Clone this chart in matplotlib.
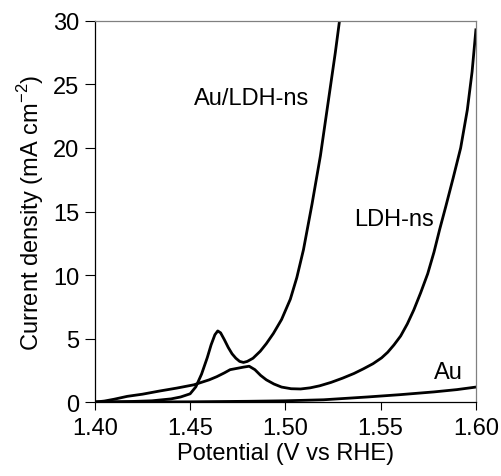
import matplotlib.pyplot as plt

plt.rcParams['font.family'] = ['Liberation Sans', 'DejaVu Sans']

# Au/LDH-ns
e_auldh = [1.400, 1.410, 1.420, 1.430, 1.440, 1.445, 1.450, 1.453, 1.456, 1.459,
           1.461, 1.463, 1.4645, 1.466, 1.468, 1.470, 1.472, 1.474, 1.476, 1.478,
           1.480, 1.483, 1.4868, 1.490, 1.4937, 1.498, 1.5026, 1.506, 1.5095, 1.514,
           1.5184, 1.521, 1.5237, 1.5262, 1.5284, 1.529]
j_auldh = [0.00, 0.02, 0.05, 0.10, 0.25, 0.40, 0.65, 1.2, 2.2, 3.5,
           4.5, 5.3, 5.6, 5.45, 4.9, 4.3, 3.8, 3.45, 3.2, 3.12,
           3.2, 3.45, 4.0, 4.6, 5.4, 6.5, 8.1, 9.8, 12.0, 15.6,
           19.4, 22.1, 24.9, 27.5, 30.0, 30.8]

# LDH-ns
e_ldh = [1.400, 1.405, 1.410, 1.417, 1.425, 1.434, 1.443, 1.452, 1.460, 1.464,
         1.468, 1.471, 1.4745, 1.478, 1.481, 1.484, 1.487, 1.490, 1.494, 1.498,
         1.503, 1.508, 1.513, 1.518, 1.524, 1.530, 1.536, 1.541, 1.546, 1.5505,
         1.5537, 1.557, 1.5605, 1.564, 1.5674, 1.571, 1.5747, 1.578, 1.581, 1.5842,
         1.588, 1.592, 1.5955, 1.598, 1.600]
j_ldh = [0.00, 0.08, 0.22, 0.45, 0.62, 0.87, 1.10, 1.36, 1.75, 2.00,
         2.30, 2.55, 2.65, 2.75, 2.82, 2.55, 2.10, 1.75, 1.42, 1.18,
         1.05, 1.03, 1.12, 1.28, 1.55, 1.88, 2.25, 2.62, 3.02, 3.48,
         3.92, 4.50, 5.20, 6.15, 7.25, 8.60, 10.1, 11.8, 13.6, 15.4,
         17.6, 20.0, 23.0, 26.0, 29.3]

# Au
e_au = [1.400, 1.450, 1.480, 1.500, 1.520, 1.543, 1.560, 1.578, 1.590, 1.600]
j_au = [0.00, 0.02, 0.06, 0.10, 0.18, 0.40, 0.58, 0.80, 0.98, 1.18]

xticks = [1.40, 1.45, 1.50, 1.55, 1.60]
xtick_labels = ["1.40", "1.45", "1.50", "1.55", "1.60"]
yticks = [0, 5, 10, 15, 20, 25, 30]

fig = plt.figure(figsize=(5.02, 4.77), dpi=100)
ax = fig.add_axes([0.189, 0.155, 0.759, 0.799])

lw = 2.0
ax.plot(e_auldh, j_auldh, color="black", lw=lw)
ax.plot(e_ldh, j_ldh, color="black", lw=lw)
ax.plot(e_au, j_au, color="black", lw=lw)

ax.set_xlim(1.40, 1.60)
ax.set_ylim(0, 30)
ax.set_xticks(xticks)
ax.set_xticklabels(xtick_labels)
ax.set_yticks(yticks)

fs = 17
ax.tick_params(axis="both", direction="out", labelsize=fs, width=0.8, color="black")
ax.tick_params(axis="x", length=6, pad=5)
ax.tick_params(axis="y", length=7, pad=4)

ax.spines["left"].set_color("black")
ax.spines["bottom"].set_color("black")
ax.spines["top"].set_color("#808080")
ax.spines["right"].set_color("#808080")
for s in ax.spines.values():
    s.set_linewidth(0.9)

ax.set_xlabel("Potential (V vs RHE)", fontsize=fs, labelpad=2)
ax.set_ylabel("Current density (mA cm$^{\\mathregular{-2}}$)", fontsize=fs, labelpad=5)

ax.text(1.482, 23.9, "Au/LDH-ns", fontsize=fs, ha="center", va="center")
ax.text(1.5568, 14.4, "LDH-ns", fontsize=fs, ha="center", va="center")
ax.text(1.5858, 2.36, "Au", fontsize=fs, ha="center", va="center")

fig.savefig("out.png", dpi=100)
